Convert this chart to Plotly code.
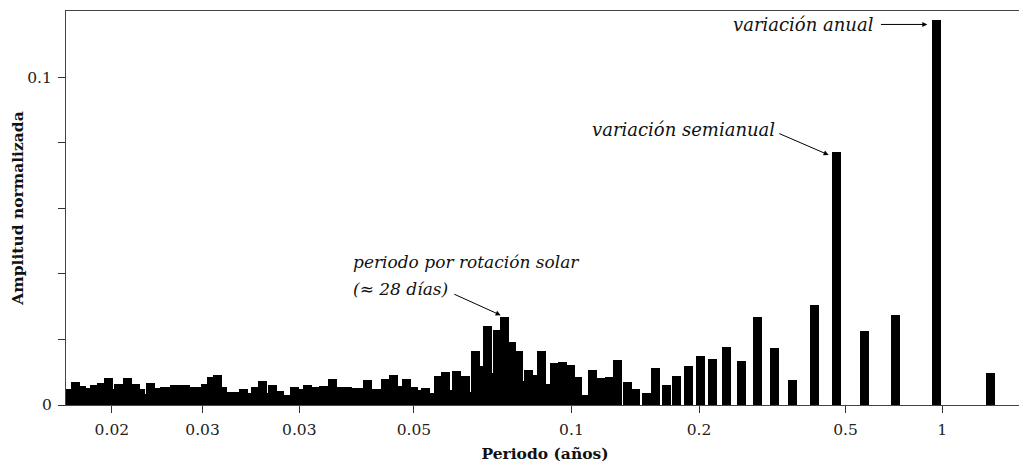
import numpy as np
import plotly.graph_objects as go

# Periodo (años) de cada barra del espectro
periodo = [
    0.002405, 0.002515, 0.002622, 0.002734, 0.002870, 0.003012, 0.003173, 0.003285,
    0.003401, 0.003607, 0.003813, 0.003947, 0.004058, 0.004245, 0.004471, 0.004662,
    0.004826, 0.004996, 0.005172, 0.005410, 0.005680, 0.005921,
    0.006215, 0.006479, 0.006731, 0.006993, 0.007214, 0.007468, 0.007732, 0.008116,
    0.008520, 0.008820, 0.009227, 0.009552, 0.009889, 0.010416, 0.010934, 0.011558,
    0.012091, 0.012648, 0.013369, 0.014131, 0.014989,
    0.015816, 0.016659, 0.017458, 0.018198, 0.019169, 0.020403, 0.021642, 0.022956,
    0.024097, 0.025208, 0.026369, 0.027298, 0.028656, 0.030185, 0.031359, 0.032919,
    0.034197, 0.035525,
    0.037813, 0.039281, 0.040666, 0.042247, 0.044041, 0.045913, 0.047203, 0.049550,
    0.052194, 0.054597, 0.056525, 0.058719, 0.061425, 0.064256, 0.067450, 0.070556,
    0.074588, 0.078563, 0.082469, 0.086869, 0.091825, 0.097394, 0.10295, 0.10919,
    0.11663, 0.12371, 0.13305, 0.14161, 0.15335, 0.16436, 0.17863, 0.19411,
    0.21168, 0.23326, 0.25793, 0.28918, 0.32533, 0.36858, 0.42785, 0.5,
    0.6071, 0.7550, 1.0, 1.454,
]

# Amplitud normalizada de cada barra
amplitud = [
    0.0049, 0.0069, 0.0059, 0.0051, 0.0062, 0.0067, 0.0081, 0.0049,
    0.0064, 0.0081, 0.0064, 0.0049, 0.0033, 0.0066, 0.0052, 0.0055,
    0.0055, 0.0062, 0.0062, 0.0060, 0.0055, 0.0055,
    0.0064, 0.0084, 0.0092, 0.0056, 0.0039, 0.0041, 0.0041, 0.0049,
    0.0036, 0.0054, 0.0072, 0.0036, 0.0062, 0.0044, 0.0031, 0.0056,
    0.0049, 0.0062, 0.0056, 0.0059, 0.0079,
    0.0056, 0.0056, 0.0051, 0.0051, 0.0077, 0.0049, 0.0079, 0.0093,
    0.0059, 0.0079, 0.0056, 0.0047, 0.0051, 0.0036, 0.0087, 0.0101,
    0.0045, 0.0103,
    0.0089, 0.0040, 0.0165, 0.0118, 0.0241, 0.0099, 0.0228, 0.0267,
    0.0191, 0.0165, 0.0072, 0.0107, 0.0092, 0.0165, 0.0064, 0.0129,
    0.0132, 0.0123, 0.0084, 0.0031, 0.0106, 0.0082, 0.0085, 0.0137,
    0.0069, 0.0049, 0.0036, 0.0113, 0.0062, 0.0090, 0.0119, 0.0148,
    0.0140, 0.0178, 0.0135, 0.0267, 0.0173, 0.0075, 0.0306, 0.0771,
    0.0226, 0.0274, 0.1176, 0.0098,
]

# Etiquetas del eje x tal como aparecen en la figura
etiquetas_x = ["0.02", "0.03", "0.03", "0.05", "0.1", "0.2", "0.5", "1"]
# Etiquetas del eje y
valores_y = [0, 0.02, 0.04, 0.06, 0.08, 0.1]
etiquetas_y = ["0", "", "", "", "", "0.1"]

# --- layout constants (log10 of period where the axis marks sit) ---
marcas_x = [-2.4895, -2.2156, -1.9236, -1.5774, -1.1017, -0.7164, -0.2739, 0.0181]
ancho_barra = 0.0271

FONT = "DejaVu Serif"

x = np.log10(np.array(periodo))

fig = go.Figure(
    go.Bar(
        x=x,
        y=amplitud,
        width=ancho_barra,
        marker=dict(color="black", line=dict(width=0)),
        hoverinfo="skip",
    )
)

axis_common = dict(
    showgrid=False,
    zeroline=False,
    showline=True,
    linecolor="#444444",
    linewidth=1,
    mirror=True,
    ticks="outside",
    ticklen=7,
    tickwidth=1,
    tickcolor="#333333",
    ticklabelstandoff=3,
    tickfont=dict(family=FONT, size=15.5, color="#222222"),
)

fig.update_xaxes(
    **axis_common,
    range=[-2.628, 0.2649],
    tickmode="array",
    tickvals=marcas_x,
    ticktext=etiquetas_x,
    title=dict(text="<b>Periodo (años)</b>", font=dict(family=FONT, size=15.5, color="#111111"), standoff=12),
)
fig.update_yaxes(
    **axis_common,
    range=[0, 0.1202],
    tickmode="array",
    tickvals=valores_y,
    ticktext=etiquetas_y,
    title=dict(text="<b>Amplitud normalizada</b>", font=dict(family=FONT, size=15.5, color="#111111"), standoff=6),
)

ann_font = dict(family=FONT, size=18, color="#111111")
rot_font = dict(family=FONT, size=17, color="#111111")
annotations = [
    # variación anual
    dict(x=-0.1806, y=0.1161, xref="x", yref="y", text="<i>variación anual</i>",
         showarrow=False, xanchor="right", yanchor="middle", font=ann_font),
    dict(x=-0.0271, y=0.1161, ax=-0.1716, ay=0.1161, xref="x", yref="y", axref="x", ayref="y",
         text="", showarrow=True, arrowhead=2, arrowsize=1, arrowwidth=1, arrowcolor="black"),
    # variación semianual
    dict(x=-0.4816, y=0.0839, xref="x", yref="y", text="<i>variación semianual</i>",
         showarrow=False, xanchor="right", yanchor="middle", font=ann_font),
    dict(x=-0.3251, y=0.0763, ax=-0.4786, ay=0.0830, xref="x", yref="y", axref="x", ayref="y",
         text="", showarrow=True, arrowhead=2, arrowsize=1, arrowwidth=1, arrowcolor="black"),
    # rotación solar
    dict(x=-1.767, y=0.0435, xref="x", yref="y", text="<i>periodo por rotación solar</i>",
         showarrow=False, xanchor="left", yanchor="middle", font=rot_font),
    dict(x=-1.767, y=0.0353, xref="x", yref="y", text="<i>(≈ 28 días)</i>",
         showarrow=False, xanchor="left", yanchor="middle", font=rot_font),
    dict(x=-1.3155, y=0.0274, ax=-1.46, ay=0.0340, xref="x", yref="y", axref="x", ayref="y",
         text="", showarrow=True, arrowhead=2, arrowsize=1, arrowwidth=1, arrowcolor="black"),
]

# The page places the figure 8 px from the top-left corner of the window.
fig.update_layout(
    width=1019,
    height=455,
    margin=dict(l=56, r=2, t=3, b=57),
    paper_bgcolor="white",
    plot_bgcolor="white",
    showlegend=False,
    bargap=0,
    annotations=annotations,
    font=dict(family=FONT),
)

fig.write_html("out.html")
